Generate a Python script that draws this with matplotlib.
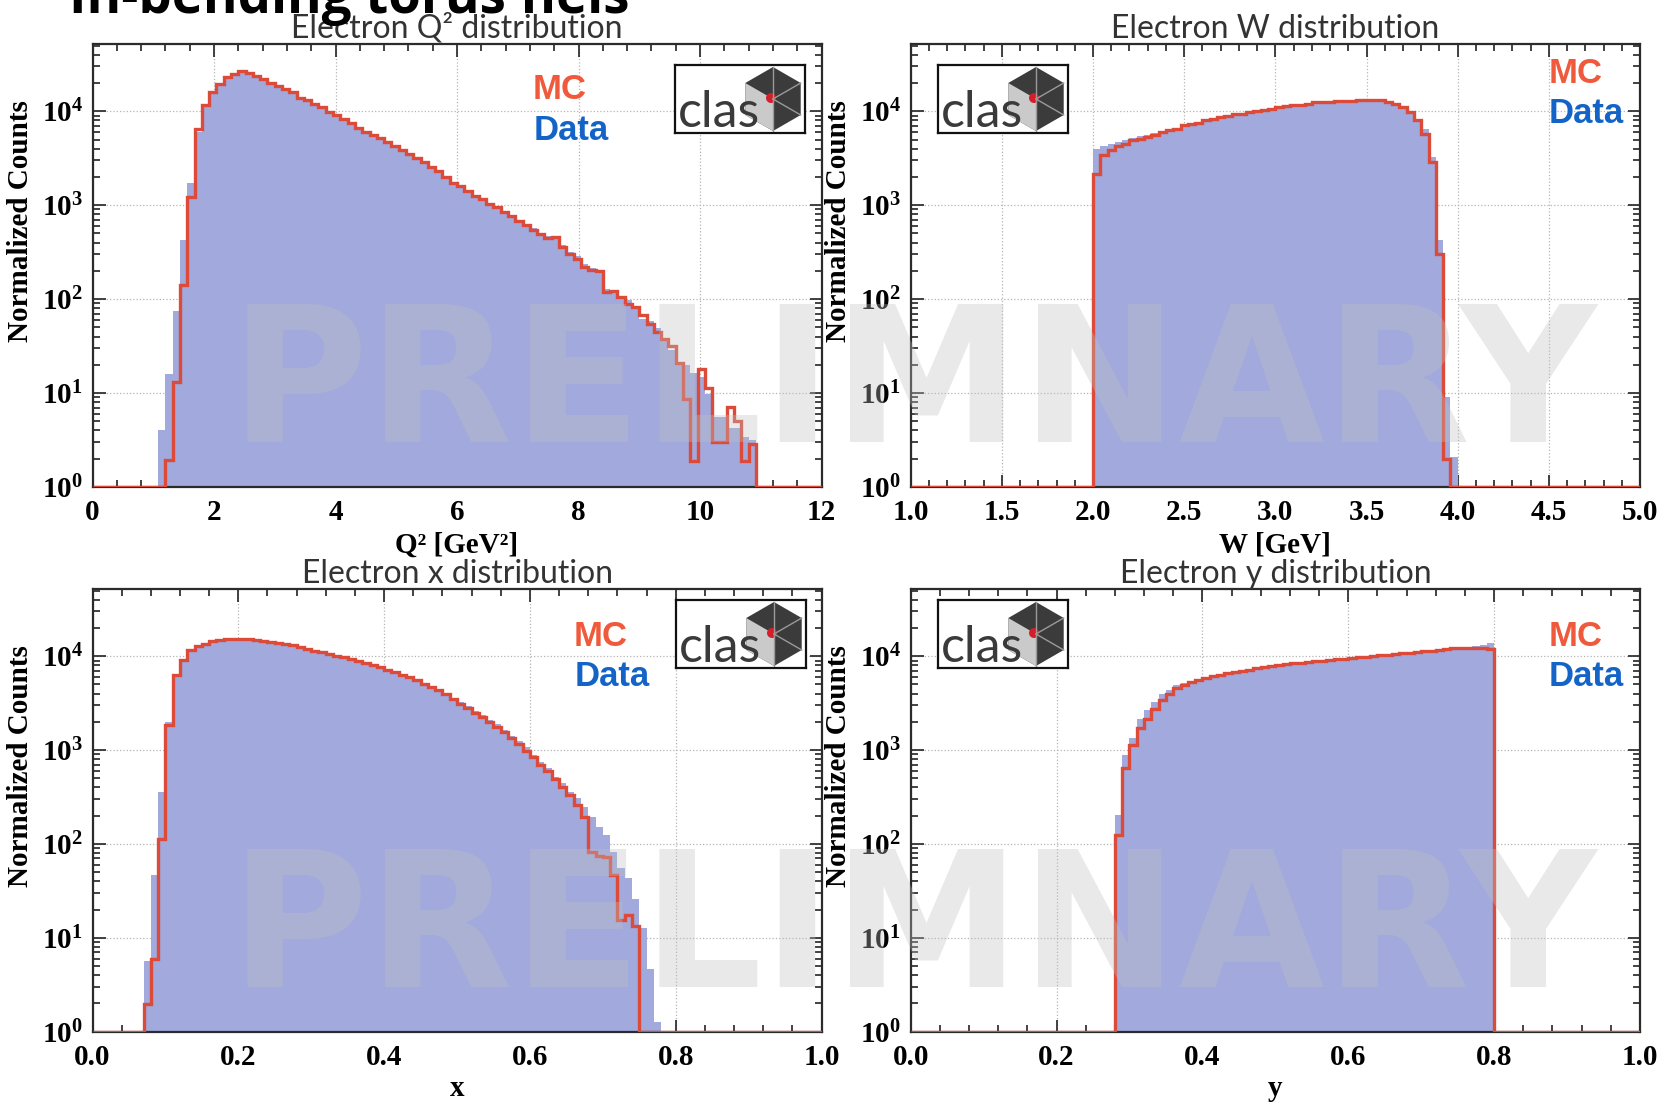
import numpy as np
import matplotlib
matplotlib.use("Agg")
import matplotlib.pyplot as plt
from matplotlib.ticker import (AutoMinorLocator, MultipleLocator, LogLocator,
                               NullFormatter, FuncFormatter)
from matplotlib.patches import Polygon, Circle

# ---- data (bin contents, normalized counts) ----
# Q^2: 100 bins on [0, 12]
q2_range = (0.0, 12.0, 100)
q2_data_start = 1.08
q2_data = [4.0, 16, 74, 427, 1740, 6000, 11200, 15300, 18900, 22200, 24400, 26000,
           25000, 23300, 21300, 19600, 18100, 16700, 15500, 13700, 12900, 11700,
           10700, 9550, 8800, 8000, 7300, 6550, 5900, 5420, 5120, 4600, 4150, 3760,
           3480, 3140, 2820, 2530, 2300, 1980, 1720, 1570, 1400, 1240, 1150, 1030,
           960, 860, 775, 690, 630, 565, 500, 470, 465, 375, 320, 285, 235, 215, 205,
           129, 123, 100, 98, 79, 62, 58, 49, 38, 28.5, 20, 20, 16.2, 14.8, 9.8, 5.6,
           5.6, 4.2, 4.2, 3.4, 3.2]
q2_mc_start = 1.20
q2_mc = [1.95, 13.2, 141, 1230, 6530, 11750, 15850, 19500, 22900, 25100, 26700,
         25700, 24000, 21900, 20200, 18600, 17200, 16000, 14000, 13300, 12000, 11000,
         9800, 9060, 8220, 7500, 6700, 6030, 5550, 5250, 4710, 4240, 3850, 3550, 3210,
         2880, 2570, 2340, 2000, 1740, 1585, 1410, 1245, 1150, 1020, 955, 850, 760, 676,
         617, 550, 490, 452, 457, 355, 305, 269, 219, 204, 200, 119, 122, 105, 89, 83,
         68, 55, 45, 38, 32, 21, 8.7, 1.9, 18, 11.2, 3.0, 3.0, 7.1, 5.1, 1.9, 2.9]

# W: 100 bins on [1, 5]
w_range = (1.0, 5.0, 100)
w_data_start = 2.00
w_data = [4000, 4250, 4500, 4750, 4950, 5250, 5450, 5650, 5900, 6200, 6400, 6650,
          7050, 7300, 7450, 7900, 8150, 8600, 8750, 9150, 9300, 9700, 9950, 10100,
          10500, 10900, 11100, 11400, 11600, 11900, 12300, 12400, 12500, 12600, 12600,
          12700, 12900, 13000, 13100, 12900, 12400, 11800, 11200, 10100, 8300, 6500,
          3250, 425, 9, 2.1]
w_mc_start = 2.00
w_mc = [2170, 3400, 3845, 4240, 4530, 4910, 5120, 5330, 5650, 6030, 6280, 6540, 7100,
        7390, 7510, 8020, 8220, 8710, 8850, 9290, 9440, 9840, 10090, 10250, 10670,
        11110, 11290, 11580, 11770, 12070, 12470, 12570, 12670, 12770, 12770, 12880,
        13090, 13200, 13310, 13090, 12570, 11870, 11110, 9840, 8020, 5780, 2890, 305,
        2.0]

# x: 100 bins on [0, 1]
x_range = (0.0, 1.0, 100)
x_data_start = 0.07
x_data = [5.6, 46.6, 359, 2000, 6030, 8800, 11300, 12600, 13300, 14100, 14700, 15100,
          15100, 15100, 14900, 14600, 14300, 13900, 13600, 13200, 12850, 12350, 11850,
          11300, 10850, 10400, 10000, 9600, 9150, 8750, 8400, 8000, 7580, 7150, 6780,
          6360, 5970, 5570, 5160, 4760, 4420, 4020, 3630, 3230, 2930, 2620, 2350, 2110,
          1880, 1650, 1430, 1250, 1070, 883, 750, 637, 519, 441, 359, 305, 249, 195,
          152, 124, 83, 55, 43, 26, 12.6, 4.7, 1.28]
x_mc_start = 0.07
x_mc = [1.95, 6.0, 114, 1840, 6280, 9060, 11590, 12880, 13640, 14450, 15040, 15420,
        15420, 15420, 15180, 14930, 14560, 14210, 13870, 13420, 13090, 12570, 12070,
        11490, 11030, 10590, 10170, 9760, 9290, 8850, 8500, 8090, 7640, 7210, 6810,
        6380, 5970, 5550, 5120, 4710, 4350, 3940, 3540, 3130, 2820, 2510, 2240, 2000,
        1770, 1540, 1330, 1150, 982, 834, 702, 597, 490, 406, 331, 259, 195, 82.6,
        74.8, 73.0, 46.6, 15.5, 17.5, 13.4]

# y: 100 bins on [0, 1]
y_range = (0.0, 1.0, 100)
y_data_start = 0.28
y_data = [203, 883, 1330, 2170, 2660, 3260, 4000, 4350, 4910, 5200, 5460, 5690, 5970,
          6250, 6450, 6650, 6850, 7050, 7250, 7450, 7650, 7800, 8000, 8200, 8400, 8550,
          8700, 8850, 9000, 9150, 9300, 9450, 9600, 9750, 9900, 10050, 10200, 10400,
          10550, 10750, 10950, 11100, 11300, 11500, 11700, 12100, 12300, 12400, 12500,
          12900, 13300, 13700]
y_mc_start = 0.28
y_mc = [124, 647, 1128, 1698, 2170, 2770, 3400, 4000, 4530, 4910, 5250, 5550, 5870,
        6180, 6380, 6590, 6810, 7040, 7210, 7450, 7640, 7820, 8020, 8220, 8420, 8560,
        8710, 8850, 9000, 9140, 9290, 9440, 9600, 9760, 9920, 10090, 10250, 10420,
        10590, 10760, 10940, 11110, 11290, 11480, 11670, 12050, 12270, 12270, 12270,
        12360, 12270, 12050]

titles = ["Electron Q\u00b2 distribution", "Electron W distribution",
          "Electron x distribution", "Electron y distribution"]
xlabels = ["Q\u00b2 [GeV\u00b2]", "W [GeV]", "x", "y"]

# ---- style ----
FIG_W, FIG_H = 1670, 1104
YMIN, YMAX = 1.0, 5.2e4
FILL = "#a1a9dd"
RED = "#dc4a3a"
MC_COL = "#f05a3c"
DATA_COL = "#1464c8"

plt.rcParams["font.family"] = ["Liberation Serif", "DejaVu Serif"]
plt.rcParams["font.weight"] = "bold"
plt.rcParams["mathtext.fontset"] = "custom"
plt.rcParams["mathtext.rm"] = "Liberation Serif:bold"
plt.rcParams["mathtext.default"] = "rm"

fig = plt.figure(figsize=(FIG_W / 100, FIG_H / 100), dpi=100)


def px_rect(l, t, r, b):
    return [l / FIG_W, 1 - b / FIG_H, (r - l) / FIG_W, (b - t) / FIG_H]


def to_bins(values, start, rng):
    lo, hi, nb = rng
    edges = np.linspace(lo, hi, nb + 1)
    counts = np.zeros(nb)
    i0 = int(round((start - lo) / (hi - lo) * nb))
    counts[i0:i0 + len(values)] = values
    return edges, counts


def draw_logo(left, top, w=130, h=68):
    lax = fig.add_axes(px_rect(left, top, left + w, top + h))
    lax.set_xlim(0, w)
    lax.set_ylim(0, h)
    lax.set_xticks([])
    lax.set_yticks([])
    for s in lax.spines.values():
        s.set_linewidth(1.6)
        s.set_color("#111111")
    cx, cy, R = 98, 34, 32
    ang = np.deg2rad([90, 30, -30, -90, -150, 150])
    verts = np.c_[cx + R * np.cos(ang), cy + R * np.sin(ang)]
    lax.add_patch(Polygon(verts, closed=True, fc="#3b3b3b", ec="none"))
    # light left face of the cube
    lax.add_patch(Polygon([verts[5], [cx, cy], verts[3], verts[4]], closed=True,
                          fc="#cacaca", ec="none"))
    for v in verts[:4]:
        lax.plot([cx, v[0]], [cy, v[1]], color="#9a9a9a", lw=1)
    lax.add_patch(Circle((cx - 2, cy + 1), 5, fc="#d41f2b", ec="none"))
    lax.text(3, 6, "clas", fontsize=36, color="#3a3a3a", family="Lato",
             fontweight="normal", ha="left", va="baseline")


def draw_panel(rect, rng, d_start, d_vals, m_start, m_vals, title, xlabel, xmajor,
               mc_pos, data_pos, logo_pos, xlab_y):
    ax = fig.add_axes(px_rect(*rect))
    edges, hd = to_bins(d_vals, d_start, rng)
    _, hm = to_bins(m_vals, m_start, rng)
    ax.set_yscale("log")
    ax.stairs(np.where(hd > 0, hd, YMIN), edges, baseline=YMIN, fill=True,
              color=FILL, zorder=2)
    ax.stairs(np.where(hm > 0, hm, YMIN), edges, baseline=None, color=RED,
              lw=2.4, zorder=3)
    ax.set_xlim(rng[0], rng[1])
    ax.set_ylim(YMIN, YMAX)

    ax.xaxis.set_major_locator(MultipleLocator(xmajor))
    ax.xaxis.set_minor_locator(AutoMinorLocator(5))
    ax.yaxis.set_major_locator(LogLocator(base=10, numticks=10))
    ax.yaxis.set_minor_locator(LogLocator(base=10, subs=np.arange(2, 10), numticks=20))
    ax.yaxis.set_minor_formatter(NullFormatter())
    ax.yaxis.set_major_formatter(FuncFormatter(lambda v, p: r"$10^{%d}$" % round(np.log10(v))))
    ax.tick_params(which="both", direction="in", top=True, right=True,
                   color="#222222", width=1.2, labelsize=21)
    ax.tick_params(which="major", length=9, pad=7)
    ax.tick_params(axis="x", which="major", pad=9)
    ax.tick_params(which="minor", length=5)
    ax.set_axisbelow(True)
    ax.grid(True, which="major", ls=":", color="#b5b5b5", lw=0.9)
    for s in ax.spines.values():
        s.set_linewidth(1.6)
        s.set_color("#2b2b2b")

    ax.set_title(title, fontsize=23, family="Lato", fontweight="normal",
                 color="#333333", pad=3)
    ax.set_xlabel(xlabel, fontsize=21, fontweight="bold")
    ax.xaxis.set_label_coords(0.5, xlab_y)
    ax.set_ylabel("Normalized Counts", fontsize=21, fontweight="bold")
    ax.yaxis.set_label_coords(-0.08, 0.6)

    fig.text(mc_pos[0] / FIG_W, 1 - mc_pos[1] / FIG_H, "MC", color=MC_COL,
             fontsize=25, fontweight="bold",
             family=["Liberation Sans Narrow", "Liberation Sans"], va="top")
    fig.text(data_pos[0] / FIG_W, 1 - data_pos[1] / FIG_H, "Data", color=DATA_COL,
             fontsize=25, fontweight="bold",
             family=["Liberation Sans Narrow", "Liberation Sans"], va="top")
    draw_logo(*logo_pos)
    return ax


draw_panel((92.5, 44, 821.5, 487), q2_range, q2_data_start, q2_data, q2_mc_start,
           q2_mc, titles[0], xlabels[0], 2, (533, 73), (534, 114), (675, 65), -0.1)
draw_panel((910.7, 44, 1640, 487), w_range, w_data_start, w_data, w_mc_start,
           w_mc, titles[1], xlabels[1], 0.5, (1549, 57), (1549, 97), (938, 65), -0.1)
draw_panel((92.5, 589, 821.5, 1031.7), x_range, x_data_start, x_data, x_mc_start,
           x_mc, titles[2], xlabels[2], 0.2, (574, 620), (575, 660), (676, 600), -0.098)
draw_panel((910.7, 589, 1640, 1031.7), y_range, y_data_start, y_data, y_mc_start,
           y_mc, titles[3], xlabels[3], 0.2, (1549, 620), (1549, 660), (938, 600), -0.098)

# watermark: mid-grey, half transparent, so it lightens the fill and greys the white
for base in (442, 987):
    fig.text(913 / FIG_W, 1 - base / FIG_H, "PRELIMNARY", ha="center",
             va="baseline", fontsize=136, family="DejaVu Sans", fontweight="bold",
             color="#c0c0c0", alpha=0.35)

# slide heading, cut off by the top edge
fig.text(69 / FIG_W, 1 - 13 / FIG_H, "In-bending torus fiels", fontsize=38,
         family="Open Sans", fontweight="bold", color="black", va="baseline")

fig.savefig("out.png", dpi=100)
